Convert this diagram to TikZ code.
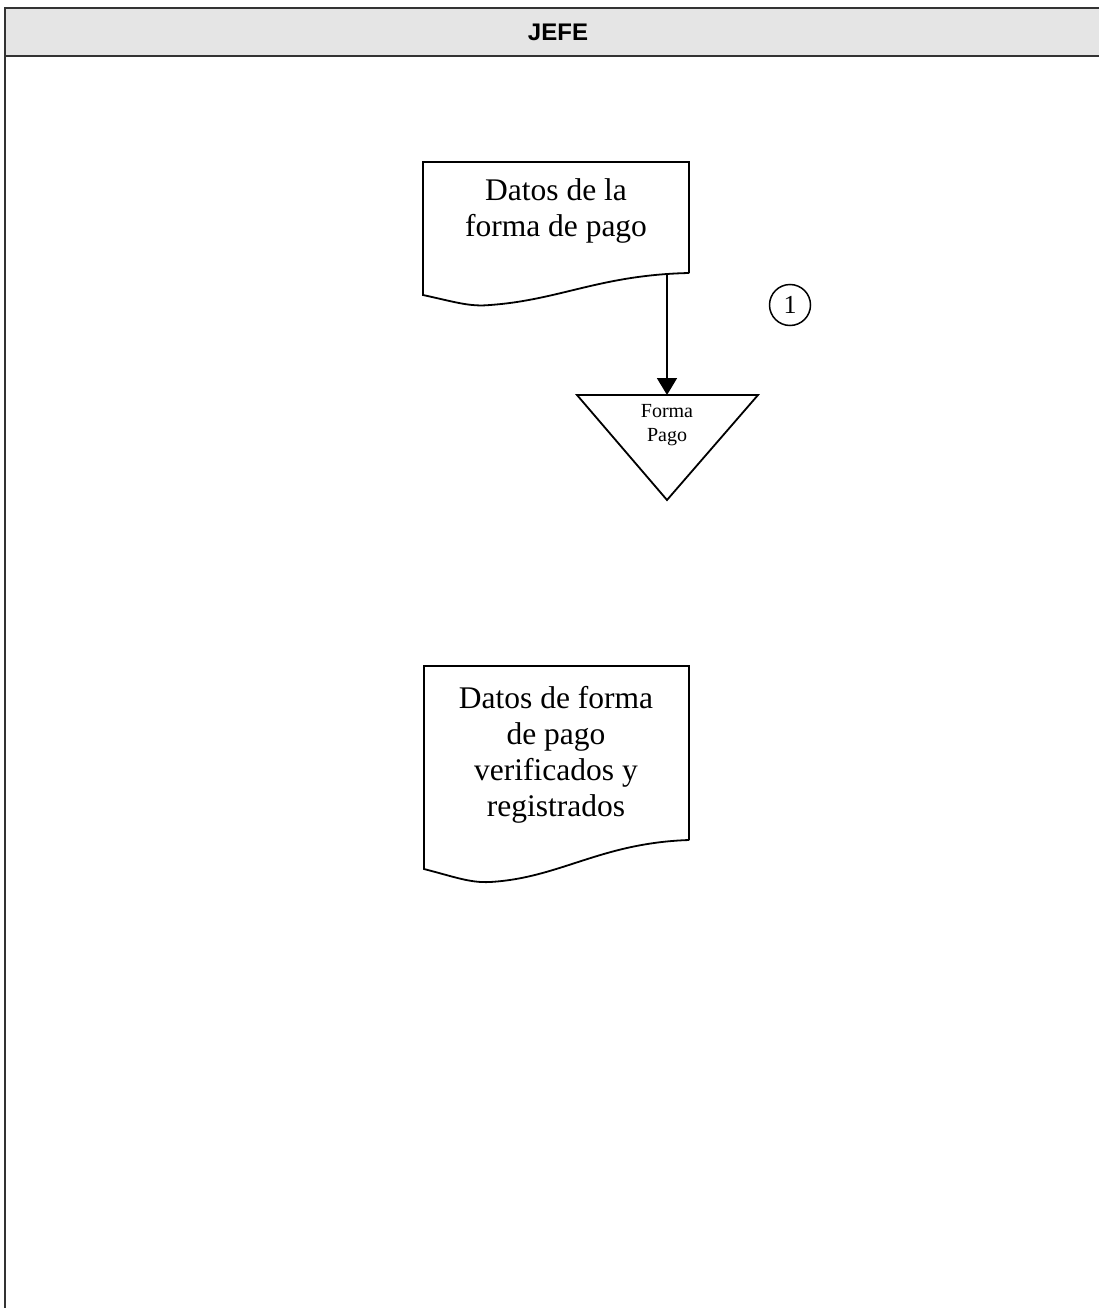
\documentclass[tikz,border=0pt]{standalone}
\usepackage{fontspec}
\setmainfont{Liberation Serif}
\newfontfamily\hdrfont{Liberation Sans}
\usetikzlibrary{arrows.meta}
\tikzset{
  frameline/.style={draw=black!80, line width=1.5pt},
  docline/.style={draw=black, line width=1.8pt},
  doctext/.style={align=center, font=\fontsize{31.5}{36}\selectfont},
  flow/.style={draw=black, line width=1.8pt, -{Triangle[length=17pt,width=20pt]}},
}
\begin{document}
\begin{tikzpicture}[x=1pt,y=-1pt]
\useasboundingbox (0,0) rectangle (1098,1308);
% header
\fill[black!10] (5,8) rectangle (1100,56);
\draw[frameline] (1100,8) -- (5,8) -- (5,1310);
\draw[frameline] (5,56) -- (1100,56);
\node[font=\hdrfont\bfseries\fontsize{24}{26}\selectfont] (hdr) at (558,32) {JEFE};
% document 1
\draw[docline] (689,273) -- (689,162) -- (423,162) -- (423,295)
  .. controls (455,302) and (470,307) .. (490,305)
  .. controls (560,300) and (600,275) .. (689,273);
\node[doctext] (doc1) at (556,211) {Datos de la\\forma de pago};
\coordinate (doc1b) at (667,273);
% triangle (file)
\draw[docline] (577,395) -- (758,395) -- (667,500) -- cycle;
\coordinate (tritop) at (667,395);
\node[align=center, font=\fontsize{20}{24}\selectfont] (tri) at (667,425) {Forma\\Pago};
\draw[flow] (doc1b) -- (tritop);
% connector circle
\node[draw=black, line width=1.5pt, circle, minimum size=41pt, inner sep=0pt, font=\fontsize{26}{28}\selectfont] (c1) at (790,305) {1};
% document 2
\draw[docline] (689,840) -- (689,666) -- (424,666) -- (424,869)
  .. controls (455,877) and (470,883) .. (490,882)
  .. controls (560,878) and (600,843) .. (689,840);
\node[doctext] (doc2) at (556,755) {Datos de forma\\de pago\\verificados y\\registrados};
\end{tikzpicture}
\end{document}
